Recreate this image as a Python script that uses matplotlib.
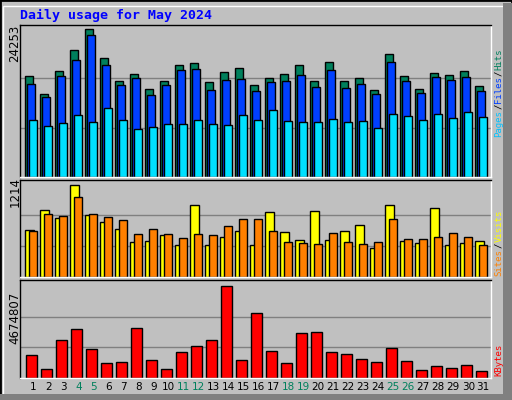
import numpy as np
import matplotlib.pyplot as plt
from matplotlib.patches import Rectangle

days = list(range(1, 32))
weekend = [4, 5, 11, 12, 18, 19, 25, 26]

hits = [16516, 13553, 17394, 20796, 24253, 19479, 15748, 16845, 14376, 15748,
        18327, 18656, 15528, 17174, 17833, 15034, 16187, 16845, 18327, 15748,
        18820, 15748, 16187, 14211, 20137, 16516, 14376, 17065, 16680, 17394, 14870]
files = [15199, 13059, 16516, 19150, 23265, 18327, 15034, 16187, 13388, 15034,
         17504, 17668, 14211, 15857, 16022, 14047, 15528, 15693, 16680, 14705,
         17504, 14541, 15199, 13553, 18820, 15693, 13718, 16351, 15857, 16351, 14047]
pages = [9273, 8285, 8779, 10096, 8944, 11248, 9273, 7792, 8121, 8614,
         8614, 9273, 8614, 8450, 10096, 9273, 10919, 9108, 8944, 8944,
         9438, 8944, 9108, 7956, 10261, 9931, 9273, 10261, 9602, 10590, 9767]
visits = [622, 885, 780, 1214, 820, 728, 636, 465, 478, 557, 425, 951, 425, 530, 609,
          425, 859, 596, 491, 872, 491, 609, 688, 386, 951, 478, 451, 912, 425, 451, 478]
sites = [609, 833, 806, 1056, 833, 793, 754, 570, 636, 570, 517, 570, 557, 675, 767,
         767, 609, 465, 451, 438, 583, 465, 438, 465, 767, 504, 504, 530, 583, 530, 425]
kbytes = [1189930, 475972, 1954885, 2515852, 1495912, 781954, 832951, 2566849, 934945,
          475972, 1342921, 1648903, 1954885, 4674807, 934945, 3331804, 1393918, 781954,
          2311864, 2362861, 1342921, 1240927, 985942, 832951, 1546909, 883948, 424975,
          628963, 526969, 679960, 373978]

W, H = 512, 400
BG = '#C0C0C0'
fig = plt.figure(figsize=(W / 100, H / 100), dpi=100, facecolor=BG)
mono = 'DejaVu Sans Mono'

# outer frame
fig.patches.append(Rectangle((0, 0), 1, 1, transform=fig.transFigure, fill=False,
                             edgecolor='black', lw=2))
fig.patches.append(Rectangle((3 / W, 3 / H), 1 - 9 / W, 1 - 9 / H, transform=fig.transFigure,
                             fill=False, edgecolor='white', lw=1))
fig.patches.append(Rectangle((503 / W, 0), 9 / W, 1 - 3 / H, transform=fig.transFigure,
                             facecolor='#808080', edgecolor='none'))
fig.patches.append(Rectangle((0, 0), 1, 6 / H, transform=fig.transFigure,
                             facecolor='#808080', edgecolor='none'))


def panel(top, bottom):
    ax = fig.add_axes([20 / W, 1 - bottom / H, 471 / W, (bottom - top) / H])
    ax.set_facecolor(BG)
    ax.set_xlim(-5 / 15, 466 / 15)
    ax.set_xticks([])
    ax.set_yticks([])
    for s in ax.spines.values():
        s.set_color('black')
        s.set_linewidth(1)
    ax.spines['right'].set_color('white')
    ax.spines['bottom'].set_color('white')
    return ax


x = np.arange(31)
kw = dict(align='edge', edgecolor='black', linewidth=1)

# hits / files / pages
ax1 = panel(25, 177)
m = max(hits)
ax1.set_ylim(0, m * 152 / 148)
for g in (m / 3, 2 * m / 3):
    ax1.axhline(g, color='#808080', lw=1, zorder=0)
ax1.bar(x, hits, 7.7 / 15, color='#00805C', **kw)
ax1.bar(x + 2 / 15, files, 7.7 / 15, color='#0040FF', **kw)
ax1.bar(x + 4 / 15, pages, 7.7 / 15, color='#00E0FF', **kw)
fig.text(15 / W, 1 - 43 / H, str(m), rotation=90, ha='center', va='center',
         fontsize=8.5, color='black')

# visits / sites
ax2 = panel(180, 277)
m = max(visits)
ax2.set_ylim(0, m * 97 / 92.3)
for g in (m / 3, 2 * m / 3):
    ax2.axhline(g, color='#808080', lw=1, zorder=0)
ax2.bar(x, visits, 8.7 / 15, color='#FFFF00', **kw)
ax2.bar(x + 3.7 / 15, sites, 8 / 15, color='#FF8000', **kw)
fig.text(15 / W, 1 - 192 / H, str(m), rotation=90, ha='center', va='center',
         fontsize=8.5, color='black')

# kbytes
ax3 = panel(280, 378)
m = max(kbytes)
ax3.set_ylim(0, m * 98 / 91.7)
for g in (m / 3, 2 * m / 3):
    ax3.axhline(g, color='#808080', lw=1, zorder=0)
ax3.bar(x + 1 / 15, kbytes, 10.7 / 15, color='#FF0000', **kw)
fig.text(15 / W, 1 - 318 / H, str(m), rotation=90, ha='center', va='center',
         fontsize=8.5, color='black')

# day labels
for i, d in enumerate(days):
    c = '#00805C' if d in weekend else 'black'
    ax3.text(i + 0.55, -0.045, str(d), transform=ax3.get_xaxis_transform(),
             ha='center', va='top', fontsize=7.5, color=c)

fig.text(20 / W, 1 - 15 / H, 'Daily usage for May 2024', color='#0000FF',
         fontsize=9.5, fontweight='bold', family=mono, va='center', ha='left')

SIDE_FS = 6.5
ADV = 0.602 * SIDE_FS * 100 / 72


def side_label(parts, y_bottom):
    # pieces stacked bottom to top, one monospace advance per character
    y = y_bottom
    for txt, col in parts:
        fig.text(499 / W, y / H, txt, rotation=90, color=col, family=mono,
                 fontsize=SIDE_FS, ha='center', va='bottom')
        y += len(txt) * ADV + 0.5


side_label([('Pages', '#00C0FF'), ('/', 'black'), ('Files', '#0040FF'),
            ('/', 'black'), ('Hits', '#00805C')], H - 137)
side_label([('Sites', '#FF8000'), ('/', 'black'), ('Visits', '#FFFF00')], H - 276)
side_label([('KBytes', '#FF0000')], H - 376)

fig.savefig('out.png', dpi=100, facecolor=BG)
